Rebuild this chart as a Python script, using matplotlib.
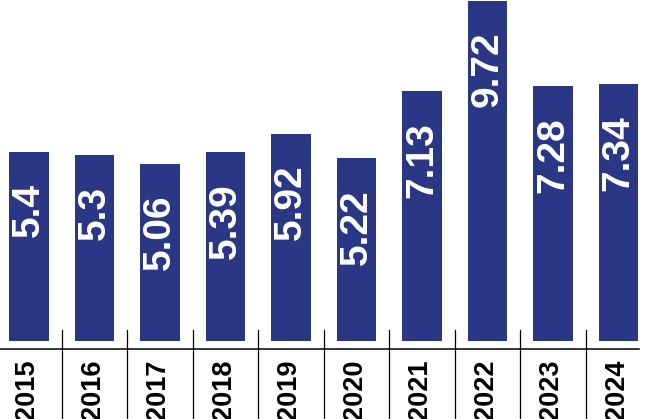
import numpy as np
import matplotlib.pyplot as plt

years = ['2015', '2016', '2017', '2018', '2019', '2020', '2021', '2022', '2023', '2024']
values = [5.4, 5.3, 5.06, 5.39, 5.92, 5.22, 7.13, 9.72, 7.28, 7.34]
value_labels = ['5.4', '5.3', '5.06', '5.39', '5.92', '5.22', '7.13', '9.72', '7.28', '7.34']

BAR = '#2a3784'
NARROW = ['Liberation Sans Narrow', 'Liberation Sans', 'DejaVu Sans']

fig = plt.figure(figsize=(6.46, 4.19), dpi=100)
fig.set_facecolor('white')
ax = fig.add_axes([0, 78 / 419, 1, 341 / 419])
ax.set_axis_off()

x = np.arange(len(years))
ax.bar(x, values, width=0.61, color=BAR, edgecolor='none')
ax.set_xlim(-0.443, 9.42)
ax.set_ylim(0, 9.74)

# value labels inside the bars, rotated
for xi, v, lab in zip(x, values, value_labels):
    ax.annotate(lab, (xi, min(v, 9.74)), xytext=(0, -31), textcoords='offset pixels',
                rotation=90, ha='center', va='top', color='white',
                fontsize=28, fontweight='bold', family=NARROW)

# baseline and separators below the bars
ax.plot([-0.46, 9.31], [-0.23, -0.23], color='black', lw=1.1, clip_on=False)
for xi in x[:-1]:
    ax.plot([xi + 0.5, xi + 0.5], [0.31, -2.3], color='black', lw=0.9, clip_on=False)

# year labels
for xi, yr in zip(x, years):
    ax.text(xi - 0.03, -0.54, yr, rotation=90, ha='center', va='top', color='black',
            fontsize=19.5, fontweight='bold', family=['Liberation Sans', 'DejaVu Sans'],
            clip_on=False)

fig.savefig('out.png', dpi=100, facecolor='white')
